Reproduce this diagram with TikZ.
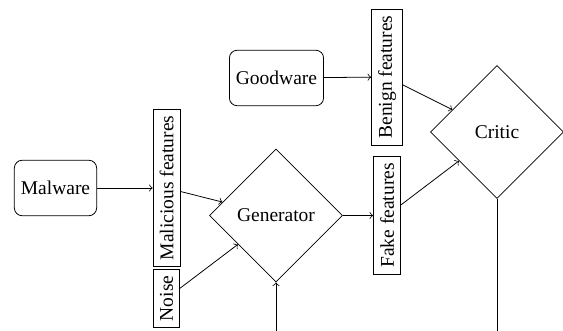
\documentclass[tikz,border=0pt]{standalone}
\usepackage{fontspec}
\setmainfont{Liberation Serif}
\usetikzlibrary{shapes.geometric,arrows}
\begin{document}
\begin{tikzpicture}[x=0.5128pt,y=-0.5128pt,
  srcbox/.style={draw,rounded corners=4pt,minimum height=1cm,inner sep=3.33pt,font=\fontsize{10}{12}\selectfont},
  featbox/.style={draw,rotate=90,inner sep=3.33pt,font=\fontsize{10}{12}\selectfont},
  netbox/.style={draw,diamond,aspect=1,minimum size=2.4cm,inner sep=1pt,font=\fontsize{10}{12}\selectfont},
  conn/.style={->}]
\useasboundingbox (0,0) rectangle (563,331);
\node[srcbox] (malware) at (55.5,188) {Malware};
\node[featbox] (malicious) at (166.5,188) {Malicious features};
\node[featbox] (noise) at (166.5,298.5) {Noise};
\node[netbox] (generator) at (276,215.5) {Generator};
\node[srcbox] (goodware) at (276.5,78) {Goodware};
\node[featbox] (benign) at (387,77) {Benign features};
\node[featbox] (fake) at (387,215.5) {Fake features};
\node[netbox] (critic) at (497,132) {Critic};
\coordinate (genin) at (276,331);
\coordinate (critout) at (497,331);
\draw[conn] (malware) -- (malicious);
\draw[conn] (malicious) -- (generator);
\draw[conn] (noise) -- (generator);
\draw[conn] (generator) -- (fake);
\draw[conn] (goodware) -- (benign);
\draw[conn] (benign) -- (critic);
\draw[conn] (fake) -- (critic);
\draw[conn] (genin) -- (generator.south);
\draw (critic.south) -- (critout);
\end{tikzpicture}
\end{document}
